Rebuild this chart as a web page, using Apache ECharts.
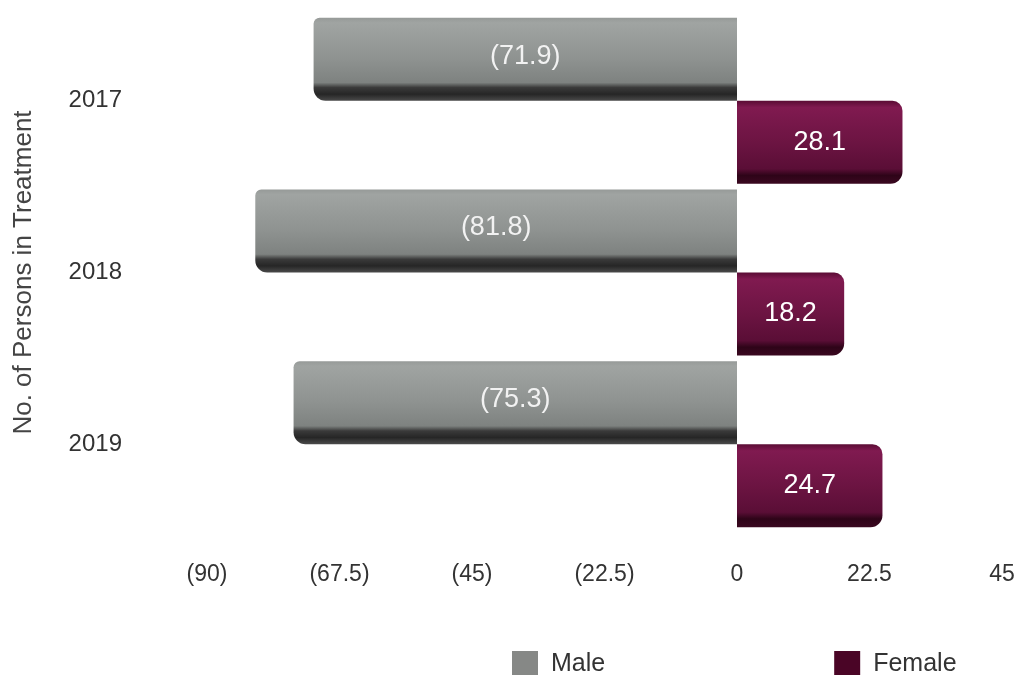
<!DOCTYPE html>
<html>
<head>
<meta charset="utf-8">
<script src="https://cdn.jsdelivr.net/npm/echarts@6/dist/echarts.min.js"></script>
<style>html,body{margin:0;padding:0;background:#fff}#c{width:1023px;height:675px}</style>
</head>
<body>
<div id="c"></div>
<script>
var years = ['2017', '2018', '2019'];
var maleValues = [-71.9, -81.8, -75.3];
var femaleValues = [28.1, 18.2, 24.7];
var axisMin = -90, axisMax = 45, axisStep = 22.5;

function paren(v) {
  if (v < 0) return '(' + (-v) + ')';
  return String(v);
}
var chart = echarts.init(document.getElementById('c'), null, {renderer: 'canvas'});
var font = 'Liberation Sans, Arial, sans-serif';
chart.setOption({
  animation: false,
  backgroundColor: '#ffffff',
  textStyle: {fontFamily: font},
  grid: {left: 207, right: 21, top: 15, bottom: 145, containLabel: false},
  legend: {
    left: 507, top: 646, icon: 'rect', itemWidth: 26, itemHeight: 27, itemGap: 229,
    textStyle: {fontSize: 25, color: '#333', fontFamily: font, padding: [0, 0, 0, 8]},
    data: [
      {name: 'Male', itemStyle: {color: '#868886'}},
      {name: 'Female', itemStyle: {color: '#4a0526'}}
    ]
  },
  xAxis: {
    type: 'value', min: axisMin, max: axisMax, interval: axisStep,
    splitLine: {show: false}, axisLine: {show: false}, axisTick: {show: false},
    axisLabel: {margin: 33, fontSize: 23, color: '#333', formatter: paren, fontFamily: font}
  },
  yAxis: {
    type: 'category', data: years, inverse: true,
    name: 'No. of Persons in Treatment', nameLocation: 'middle', nameGap: 170,
    nameTextStyle: {fontSize: 26, color: '#444', fontFamily: font},
    axisLine: {show: false, onZero: false}, axisTick: {show: false},
    axisLabel: {margin: 85, fontSize: 24, color: '#333', fontFamily: font}
  },
  series: [
    {
      name: 'Male', type: 'bar', data: maleValues, barWidth: 83, barGap: '0%',
      itemStyle: {
        borderRadius: [6, 0, 0, 12],
        color: {type: 'linear', x: 0, y: 0, x2: 0, y2: 1, colorStops: [
          {offset: 0, color: '#969a98'}, {offset: 0.06, color: '#a0a4a2'},
          {offset: 0.5, color: '#8e9290'}, {offset: 0.78, color: '#7e8280'},
          {offset: 0.84, color: '#3a3a3a'}, {offset: 0.92, color: '#262626'}, {offset: 1, color: '#4a4a4a'}
        ]}
      },
      label: {show: true, position: 'inside', offset: [0, -3], formatter: function(p){return paren(p.value);}, fontSize: 27, color: '#f2f2f2', fontFamily: font}
    },
    {
      name: 'Female', type: 'bar', data: femaleValues, barWidth: 83,
      itemStyle: {
        borderRadius: [0, 10, 12, 0],
        color: {type: 'linear', x: 0, y: 0, x2: 0, y2: 1, colorStops: [
          {offset: 0, color: '#5a0c34'}, {offset: 0.08, color: '#801a50'},
          {offset: 0.5, color: '#6c1442'}, {offset: 0.82, color: '#5a0e36'},
          {offset: 0.9, color: '#2e0418'}, {offset: 1, color: '#3a0820'}
        ]}
      },
      label: {show: true, position: 'inside', offset: [0, 0], formatter: function(p){return paren(p.value);}, fontSize: 27, color: '#ffffff', fontFamily: font}
    }
  ]
});
</script>
</body>
</html>
